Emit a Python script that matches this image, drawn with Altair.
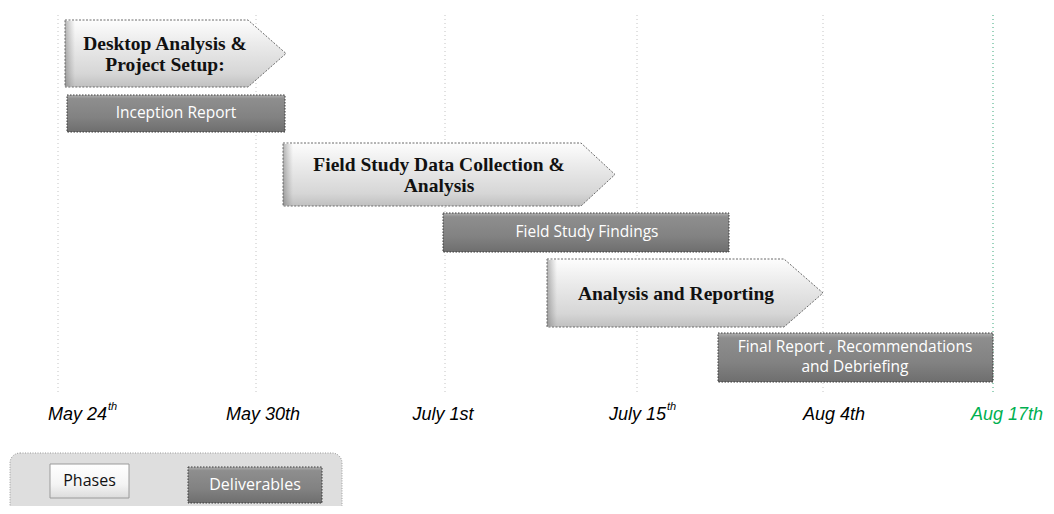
import altair as alt
import pandas as pd

# ---------------- data (schematic timeline units) ----------------
milestone_labels = ["May 24", "May  30th", "July 1st", "July 15", "Aug 4th", "Aug 17th"]
milestone_grid = [58, 256, 445, 637, 823, 993]
milestone_label_pos = [107, 263, 443, 666, 834, 1007]
milestone_label_align = ["right", "center", "center", "right", "center", "center"]
milestone_sup = ["th", "", "", "th", "", ""]
milestone_color = ["black", "black", "black", "black", "black", "#00b050"]

phase_names = ["Desktop Analysis & Project Setup:",
               "Field Study Data Collection & Analysis",
               "Analysis and Reporting"]
phase_lines = [["Desktop Analysis &", "Project Setup:"],
               ["Field Study Data Collection &", "Analysis"],
               ["Analysis and Reporting"]]
phase_start = [65, 283, 547]
phase_body_end = [248, 581, 784]
phase_tip = [286, 615, 823]
phase_top = [20, 143, 259]
phase_bottom = [87, 206, 327]
phase_text_x = [165, 439, 676]

deliv_names = ["Inception Report", "Field Study Findings",
               "Final Report , Recommendations and Debriefing"]
deliv_lines = [["Inception Report"], ["Field Study Findings"],
               ["Final Report , Recommendations", "and Debriefing"]]
deliv_start = [67, 443, 718]
deliv_end = [285, 729, 993]
deliv_top = [95, 213, 333]
deliv_bottom = [132, 252, 382]
deliv_text_x = [176, 587, 855]

legend_items = ["Phases", "Deliverables"]
legend_x0 = [50, 188]
legend_x1 = [129, 322]
legend_y0 = [464, 467]
legend_y1 = [498, 503]

# ---------------- scales ----------------
XS = alt.Scale(domain=[8, 1046], nice=False, zero=False)
YS = alt.Scale(domain=[8, 506], nice=False, zero=False, reverse=True)


def X(f):
    return alt.X(f, type="quantitative", scale=XS, axis=None)


def Y(f):
    return alt.Y(f, type="quantitative", scale=YS, axis=None)


# ---------------- tables ----------------
area_rows = []
for i, n in enumerate(phase_names):
    mid = (phase_top[i] + phase_bottom[i]) / 2
    area_rows += [
        dict(phase=n, x=phase_start[i], top=phase_top[i], bot=phase_bottom[i]),
        dict(phase=n, x=phase_body_end[i], top=phase_top[i], bot=phase_bottom[i]),
        dict(phase=n, x=phase_tip[i], top=mid, bot=mid),
    ]
area_df = pd.DataFrame(area_rows)

phase_text_rows = []
for i, lines in enumerate(phase_lines):
    mid = (phase_top[i] + phase_bottom[i]) / 2
    k = len(lines)
    for j, t in enumerate(lines):
        phase_text_rows.append(dict(x=phase_text_x[i], y=mid + (j - (k - 1) / 2) * 20.5 + 1, t=t))
phase_text_df = pd.DataFrame(phase_text_rows)

bevel_df = pd.DataFrame(dict(x=phase_start, x2=[s + 10 for s in phase_start],
                             y=[t + 1 for t in phase_top], y2=[b - 1 for b in phase_bottom]))

deliv_df = pd.DataFrame(dict(name=deliv_names, x=deliv_start, x2=deliv_end,
                             y=deliv_top, y2=deliv_bottom))
deliv_text_rows = []
for i, lines in enumerate(deliv_lines):
    mid = (deliv_top[i] + deliv_bottom[i]) / 2
    k = len(lines)
    for j, t in enumerate(lines):
        deliv_text_rows.append(dict(x=deliv_text_x[i], y=mid + (j - (k - 1) / 2) * 20 - 1, t=t))
deliv_text_df = pd.DataFrame(deliv_text_rows)

grid_df = pd.DataFrame(dict(x=milestone_grid, y=[15] * 6, y2=[395] * 6,
                            c=["#c4c4c4"] * 5 + ["#3aa87a"]))
label_df = pd.DataFrame(dict(x=milestone_label_pos, t=milestone_labels,
                             a=milestone_label_align, c=milestone_color, y=[415] * 6))
sup_df = pd.DataFrame(dict(x=[p + 1 for p in milestone_label_pos], t=milestone_sup,
                           y=[407] * 6))
sup_df = sup_df[sup_df.t != ""]

legend_bg = pd.DataFrame(dict(x=[10], x2=[342], y=[453], y2=[520]))
legend_df = pd.DataFrame(dict(name=legend_items, x=legend_x0, x2=legend_x1,
                              y=legend_y0, y2=legend_y1))
legend_df["tx"] = (legend_df.x + legend_df.x2) / 2
legend_df["ty"] = (legend_df.y + legend_df.y2) / 2

# ---------------- styles ----------------
light_grad = alt.LinearGradient(
    gradient="linear", x1=0, y1=0, x2=0, y2=1,
    stops=[alt.GradientStop(color="#fdfdfd", offset=0),
           alt.GradientStop(color="#ebebeb", offset=0.35),
           alt.GradientStop(color="#d6d6d6", offset=0.8),
           alt.GradientStop(color="#c0c0c0", offset=1)])
dark_grad = alt.LinearGradient(
    gradient="linear", x1=0, y1=0, x2=0, y2=1,
    stops=[alt.GradientStop(color="#b0b0b0", offset=0),
           alt.GradientStop(color="#8e8e8e", offset=0.1),
           alt.GradientStop(color="#828282", offset=0.6),
           alt.GradientStop(color="#6e6e6e", offset=1)])
bevel_grad = alt.LinearGradient(
    gradient="linear", x1=0, y1=0, x2=1, y2=0,
    stops=[alt.GradientStop(color="rgba(90,90,90,0.45)", offset=0),
           alt.GradientStop(color="rgba(120,120,120,0)", offset=1)])
legend_light = alt.LinearGradient(
    gradient="linear", x1=0, y1=0, x2=0, y2=1,
    stops=[alt.GradientStop(color="#ffffff", offset=0),
           alt.GradientStop(color="#f4f4f4", offset=0.6),
           alt.GradientStop(color="#dcdcdc", offset=1)])

# ---------------- layers ----------------
grid = alt.Chart(grid_df).mark_rule(strokeDash=[1, 3], strokeWidth=1).encode(
    x=X("x"), y=Y("y"), y2="y2", color=alt.Color("c:N", scale=None))

arrows = alt.Chart(area_df).mark_area(
    fill=light_grad, stroke="#6a6a6a", strokeWidth=1, strokeDash=[2, 1.5],
    interpolate="linear").encode(
    x=X("x"), y=Y("top"), y2="bot", detail="phase:N")

bevel = alt.Chart(bevel_df).mark_rect(fill=bevel_grad).encode(
    x=X("x"), x2="x2", y=Y("y"), y2="y2")

phase_text = alt.Chart(phase_text_df).mark_text(
    font="Liberation Serif", fontWeight="bold", fontSize=19.5, color="#111111",
    baseline="middle", align="center").encode(x=X("x"), y=Y("y"), text="t:N")

delivs = alt.Chart(deliv_df).mark_rect(
    fill=dark_grad, stroke="#3a3a3a", strokeWidth=1, strokeDash=[1.5, 1.5]).encode(
    x=X("x"), x2="x2", y=Y("y"), y2="y2")

deliv_text = alt.Chart(deliv_text_df).mark_text(
    font="Open Sans", fontSize=15.5, color="white",
    baseline="middle", align="center").encode(x=X("x"), y=Y("y"), text="t:N")

labels_right = alt.Chart(label_df[label_df.a == "right"]).mark_text(
    font="Liberation Sans", fontStyle="italic", fontSize=18,
    baseline="middle", align="right").encode(
    x=X("x"), y=Y("y"), text="t:N", color=alt.Color("c:N", scale=None))
labels_center = alt.Chart(label_df[label_df.a == "center"]).mark_text(
    font="Liberation Sans", fontStyle="italic", fontSize=18,
    baseline="middle", align="center").encode(
    x=X("x"), y=Y("y"), text="t:N", color=alt.Color("c:N", scale=None))
sups = alt.Chart(sup_df).mark_text(
    font="Liberation Sans", fontStyle="italic", fontSize=11,
    baseline="middle", align="left", color="black").encode(
    x=X("x"), y=Y("y"), text="t:N")

leg_bg = alt.Chart(legend_bg).mark_rect(
    fill="#dedede", stroke="#9a9a9a", strokeDash=[1, 1.5], strokeWidth=1,
    cornerRadius=10).encode(x=X("x"), x2="x2", y=Y("y"), y2="y2")
leg_phase = alt.Chart(legend_df[legend_df.name == "Phases"]).mark_rect(
    fill=legend_light, stroke="#9a9a9a", strokeWidth=1).encode(
    x=X("x"), x2="x2", y=Y("y"), y2="y2")
leg_deliv = alt.Chart(legend_df[legend_df.name == "Deliverables"]).mark_rect(
    fill=dark_grad, stroke="#3a3a3a", strokeDash=[1.5, 1.5], strokeWidth=1).encode(
    x=X("x"), x2="x2", y=Y("y"), y2="y2")
leg_text = alt.Chart(legend_df).mark_text(
    font="Open Sans", fontSize=16, baseline="middle", align="center").encode(
    x=X("tx"), y=Y("ty"), text="name:N",
    color=alt.Color("name:N", scale=alt.Scale(domain=legend_items,
                                              range=["#111111", "white"]), legend=None))

chart = alt.layer(
    grid, arrows, bevel, phase_text, delivs, deliv_text,
    labels_right, labels_center, sups, leg_bg, leg_phase, leg_deliv, leg_text
).properties(
    width=1038, height=498,
    autosize=alt.AutoSizeParams(type="none"),
    padding=0,
    background="white",
).configure_view(stroke=None)

chart.save("out.html", embed_options={"renderer": "svg", "actions": False})
